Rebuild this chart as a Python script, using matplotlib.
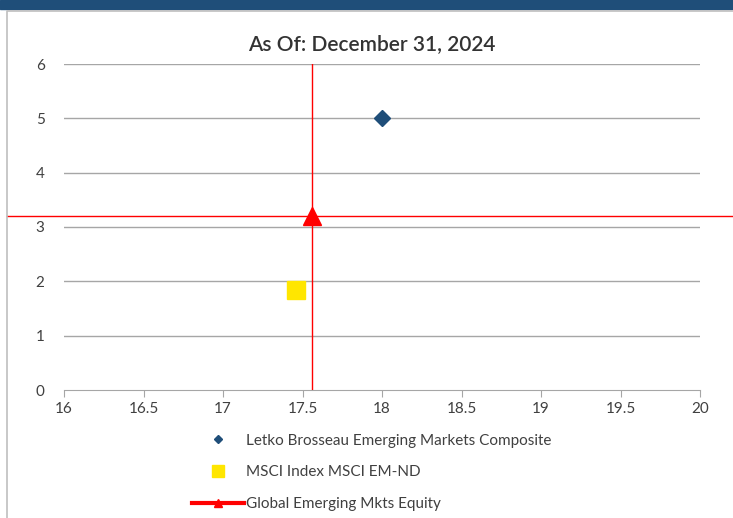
import matplotlib.pyplot as plt
from matplotlib.lines import Line2D
from matplotlib.patches import Rectangle

plt.rcParams['font.family'] = ['Lato', 'DejaVu Sans']

# data
names = ["Letko Brosseau Emerging Markets Composite",
         "MSCI Index MSCI EM-ND",
         "Global Emerging Mkts Equity"]
x_vals = [18.0, 17.46, 17.56]
y_vals = [5.0, 1.84, 3.21]
x_ticks = [16, 16.5, 17, 17.5, 18, 18.5, 19, 19.5, 20]
x_labels = ["16", "16.5", "17", "17.5", "18", "18.5", "19", "19.5", "20"]
y_ticks = [0, 1, 2, 3, 4, 5, 6]

NAVY = "#1F4E79"
YELLOW = "#FFE600"
RED = "#FF0000"
GRID = "#A6A6A6"
TEXT = "#404040"

fig = plt.figure(figsize=(7.33, 5.18), dpi=100)
fig.patches.append(Rectangle((0, 1 - 9 / 518), 1, 9 / 518, transform=fig.transFigure,
                             color=NAVY, zorder=0))
fig.lines.append(Line2D([7 / 733, 7 / 733, 1], [0, 1 - 11 / 518, 1 - 11 / 518],
                        transform=fig.transFigure, color="#BFBFBF", lw=1.2))

ax = fig.add_axes([64 / 733, 1 - 390 / 518, 636 / 733, 326 / 518])
ax.set_xlim(16, 20)
ax.set_ylim(0, 6)

for y in y_ticks[1:]:
    ax.axhline(y, color=GRID, lw=1, zorder=1)

ax.plot(x_vals[0], y_vals[0], marker="D", color=NAVY, ms=8, ls="none", zorder=4)
ax.plot(x_vals[1], y_vals[1], marker="s", color=YELLOW, ms=13, ls="none", zorder=4)

# crosshair for the peer group
ax.plot([x_vals[2], x_vals[2]], [0, 6], color=RED, lw=1, zorder=3)
ax.plot([15.64, 20.25], [y_vals[2], y_vals[2]], color=RED, lw=1, clip_on=False, zorder=3)
ax.plot(x_vals[2], y_vals[2], marker="^", color=RED, ms=13, ls="none", zorder=5)

for s in ["top", "right", "left"]:
    ax.spines[s].set_visible(False)
ax.spines["bottom"].set_color(GRID)
ax.set_xticks(x_ticks)
ax.set_xticklabels(x_labels)
ax.set_yticks(y_ticks)
ax.tick_params(axis="x", colors=GRID, labelcolor=TEXT, labelsize=11, length=5, direction="out")
ax.tick_params(axis="y", length=0, labelcolor=TEXT, labelsize=11, pad=14)

fig.text(372 / 733, 1 - 44 / 518, "As Of: December 31, 2024", ha="center", va="center",
         fontsize=15, fontweight="semibold", color="#333333")

handles = [
    Line2D([], [], marker="D", color=NAVY, ms=4.5, ls="none"),
    Line2D([], [], marker="s", color=YELLOW, ms=8, ls="none"),
    Line2D([], [], marker="^", color=RED, ms=6, lw=3),
]
fig.legend(handles, names, loc="upper left", bbox_to_anchor=(178 / 733, 1 - 420 / 518),
           frameon=False, fontsize=11, labelspacing=1.15, handlelength=3.4,
           handletextpad=0.15, labelcolor=TEXT)

fig.savefig("out.png", dpi=100)
